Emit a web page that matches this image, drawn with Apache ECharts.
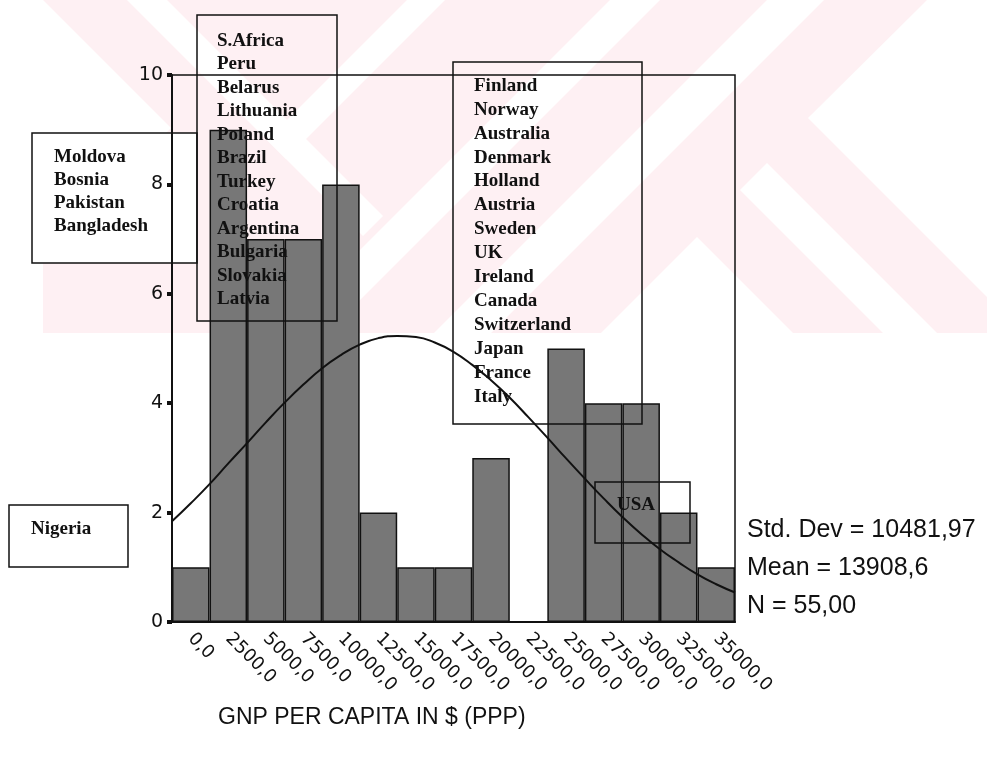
<!DOCTYPE html>
<html>
<head>
<meta charset="utf-8">
<script src="https://cdn.jsdelivr.net/npm/echarts@6/dist/echarts.min.js"></script>
<style>
  html, body { margin: 0; padding: 0; background: #fff; }
  #chart { width: 987px; height: 764px; }
</style>
</head>
<body>
<div id="chart"></div>
<script>
// histogram bins (centres) and counts
var binLabels = ['0,0', '2500,0', '5000,0', '7500,0', '10000,0', '12500,0', '15000,0', '17500,0',
  '20000,0', '22500,0', '25000,0', '27500,0', '30000,0', '32500,0', '35000,0'];
var counts = [1, 9, 7, 7, 8, 2, 1, 1, 3, 0, 5, 4, 4, 2, 1];

// fitted normal curve
var curveX = [-1250, 0, 1250, 2500, 3750, 5000, 6250, 7500, 8750, 10000, 11250, 12500, 13750, 15000,
  16250, 17500, 18750, 20000, 21250, 22500, 23750, 25000, 26250, 27500, 28750, 30000, 31250, 32500,
  33750, 35000, 36250];
var curveY = [1.84, 2.17, 2.52, 2.90, 3.27, 3.65, 4.01, 4.34, 4.64, 4.88, 5.07, 5.19, 5.23, 5.21,
  5.11, 4.94, 4.70, 4.42, 4.10, 3.74, 3.37, 2.99, 2.62, 2.26, 1.92, 1.61, 1.33, 1.09, 0.87, 0.69, 0.54];

var yTicks = [0, 2, 4, 6, 8, 10];

// annotation boxes
var midList = ['S.Africa', 'Peru', 'Belarus', 'Lithuania', 'Poland', 'Brazil', 'Turkey', 'Croatia',
  'Argentina', 'Bulgaria', 'Slovakia', 'Latvia'];
var lowList = ['Moldova', 'Bosnia', 'Pakistan', 'Bangladesh'];
var highList = ['Finland', 'Norway', 'Australia', 'Denmark', 'Holland', 'Austria', 'Sweden', 'UK',
  'Ireland', 'Canada', 'Switzerland', 'Japan', 'France', 'Italy'];
var statLines = ['Std. Dev = 10481,97', 'Mean = 13908,6', 'N = 55,00'];
var axisTitle = 'GNP PER CAPITA IN $ (PPP)';

var chart = echarts.init(document.getElementById('chart'));

var pink = '#fef0f3';
var serif = 'Liberation Serif, Times New Roman, serif';
var sans = 'Liberation Sans, Arial, sans-serif';

// watermark: pink block with white diagonal gaps
var wm = [
  { type: 'rect', z: -20, shape: { x: 43, y: 0, width: 944, height: 333 }, style: { fill: pink } }
];
var gaps = [
  [[43, 0], [171, 128], [43, 257]],
  [[127, 0], [167, 0], [383, 216], [363, 236]],
  [[407, 0], [445, 0], [286, 159], [267, 140]],
  [[610, 0], [660, 0], [327, 333], [277, 333]],
  [[767, 0], [824, 0], [491, 333], [434, 333]],
  [[927, 0], [987, 0], [987, 297], [808, 118]],
  [[767, 163], [937, 333], [883, 333], [740, 190]],
  [[697, 237], [793, 333], [601, 333]]
];
gaps.forEach(function (p) {
  wm.push({ type: 'polygon', z: -19, shape: { points: p }, style: { fill: '#fff' } });
});

function box(x, y, w, h, fill, z) {
  return {
    type: 'rect', z: z, shape: { x: x, y: y, width: w, height: h },
    style: { fill: fill, stroke: '#111', lineWidth: 1.5 }
  };
}
function list(lines, x, y, lh) {
  return {
    type: 'text', z: 110, x: x, y: y,
    style: {
      text: lines.join('\n'), fill: '#111', fontFamily: serif, fontWeight: 'bold',
      fontSize: 19, lineHeight: lh, verticalAlign: 'top'
    }
  };
}

var graphics = wm.concat([
  box(32, 133, 165, 130, '#fff', -5),
  box(197, 15, 140, 306, 'none', 100),
  box(453, 62, 189, 362, 'none', 100),
  box(9, 505, 119, 62, 'none', 100),
  box(595, 482, 95, 61, 'none', 100),
  list(midList, 217, 29, 23.5),
  list(lowList, 54, 146, 23),
  list(highList, 474, 74, 23.9),
  list(['Nigeria'], 31, 518, 23),
  list(['USA'], 617, 494, 23),
  {
    type: 'text', z: 110, x: 747, y: 511,
    style: {
      text: statLines.join('\n'), fill: '#111', fontFamily: sans, fontSize: 25,
      lineHeight: 38, verticalAlign: 'top'
    }
  },
  {
    type: 'text', z: 110, x: 218, y: 718,
    style: { text: axisTitle, fill: '#111', fontFamily: sans, fontSize: 23, verticalAlign: 'middle' }
  }
]);

chart.setOption({
  animation: false,
  backgroundColor: '#fff',
  grid: {
    left: 172, right: 252, top: 75, bottom: 142,
    show: true, borderColor: '#111', borderWidth: 1.5, backgroundColor: 'transparent'
  },
  xAxis: [
    {
      type: 'category',
      data: binLabels,
      boundaryGap: true,
      axisLine: { lineStyle: { color: '#111', width: 2 } },
      axisTick: { alignWithLabel: true, length: 5, lineStyle: { color: '#111', width: 4 } },
      axisLabel: {
        rotate: -45, margin: 14, color: '#111',
        fontFamily: 'DejaVu Sans', fontSize: 18, interval: 0
      },
      splitLine: { show: false }
    },
    {
      type: 'value',
      min: curveX[0],
      max: curveX[curveX.length - 1],
      show: false
    }
  ],
  yAxis: {
    type: 'value',
    min: yTicks[0],
    max: yTicks[yTicks.length - 1],
    interval: 2,
    axisLine: { show: true, onZero: false, lineStyle: { color: '#111', width: 2 } },
    axisTick: { show: true, length: 5, lineStyle: { color: '#111', width: 4 } },
    axisLabel: { margin: 9, color: '#111', fontFamily: 'DejaVu Sans', fontSize: 19 },
    splitLine: { show: false }
  },
  series: [
    {
      type: 'bar',
      xAxisIndex: 0,
      data: counts,
      barWidth: '100%',
      barCategoryGap: 0,
      itemStyle: { color: '#777777', borderColor: '#111', borderWidth: 1.5 }
    },
    {
      type: 'line',
      xAxisIndex: 1,
      data: curveX.map(function (x, i) { return [x, curveY[i]]; }),
      smooth: true,
      showSymbol: false,
      lineStyle: { color: '#111', width: 2 },
      z: 5
    }
  ],
  graphic: graphics
});
</script>
</body>
</html>
